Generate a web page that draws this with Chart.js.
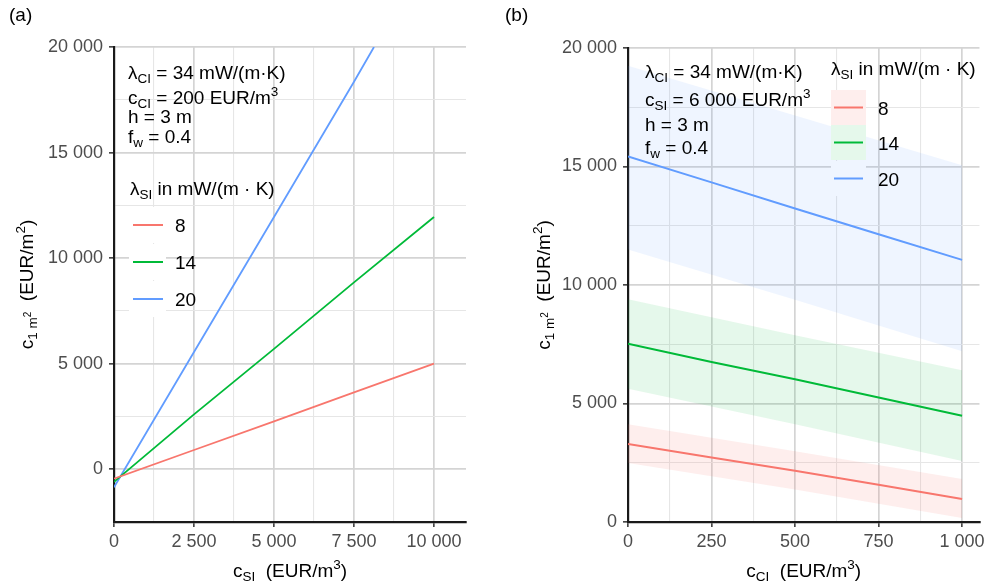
<!DOCTYPE html>
<html>
<head>
<meta charset="utf-8">
<script src="https://cdn.jsdelivr.net/npm/chart.js@4.4.1/dist/chart.umd.min.js"></script>
<style>
  body { margin: 0; background: #fff; }
  #wrap { position: relative; width: 989px; height: 585px; }
  #chart-a { position: absolute; left: 0; top: 0; }
  #chart-b { position: absolute; left: 494px; top: 0; }
</style>
</head>
<body>
<div id="wrap">
  <canvas id="chart-a" width="494" height="585"></canvas>
  <canvas id="chart-b" width="495" height="585"></canvas>
</div>
<script>
// panel (a): cost vs c_SI
const costSI = [0, 2500, 5000, 7500, 10000];
const costA8 = [-450, 910, 2270, 3640, 5000];
const costA14 = [-600, 2600, 5700, 8850, 11950];
const costSI20 = [0, 2500, 5000, 7500, 8125];
const costA20 = [-850, 5550, 11950, 18350, 20000];

// panel (b): cost vs c_CI, with bands
const costCI = [0, 250, 500, 750, 1000];
const costB8 = [3290, 2720, 2165, 1570, 970];
const costB14 = [7520, 6750, 6020, 5250, 4480];
const costB20 = [15420, 14330, 13230, 12140, 11060];
const bandCI = [0, 500, 1000];
const band8Hi = [4120, 2990, 1810];
const band8Lo = [2490, 1370, 170];
const band14Hi = [9400, 7880, 6400];
const band14Lo = [5620, 4120, 2570];
const band20Hi = [19250, 17150, 15050];
const band20Lo = [11500, 9380, 7200];

// ticks
const xMajorA = [0, 2500, 5000, 7500, 10000];
const xMinorA = [1250, 3750, 6250, 8750];
const yMajorA = [0, 5000, 10000, 15000, 20000];
const yMinorA = [-2500, 2500, 7500, 12500, 17500];
const xMajorB = [0, 250, 500, 750, 1000];
const xMinorB = [125, 375, 625, 875];
const yMajorB = [0, 5000, 10000, 15000, 20000];
const yMinorB = [2500, 7500, 12500, 17500];

const lambdaLabels = ['8', '14', '20'];
const colors = ['#F8766D', '#00BA38', '#619CFF'];
const bandColors = ['rgba(248,118,109,0.12)', 'rgba(0,186,56,0.1)', 'rgba(97,156,255,0.1)'];

const FONT = '"Liberation Sans", Arial, sans-serif';

function fmt(v) {
    return String(v).replace(/\B(?=(\d{3})+(?!\d))/g, ' ');
}

function pts(xs, ys) {
    return xs.map((x, i) => ({ x: x, y: ys[i] }));
}

// draw text with sub/superscripts
const roles = {
    n: { size: 19, dy: 0 },
    sub: { size: 13.5, dy: 4 },
    sup: { size: 13.5, dy: -8.5 },
    subsup: { size: 10, dy: -2 },
};
function drawRich(ctx, parts, x, y, align, color) {
    let total = 0;
    parts.forEach(p => {
        ctx.font = roles[p[1]].size + 'px ' + FONT;
        total += ctx.measureText(p[0]).width;
    });
    let cx = align === 'center' ? x - total / 2 : x;
    ctx.fillStyle = color || '#000';
    ctx.textAlign = 'left';
    ctx.textBaseline = 'alphabetic';
    parts.forEach(p => {
        const r = roles[p[1]];
        ctx.font = r.size + 'px ' + FONT;
        ctx.fillText(p[0], cx, y + r.dy);
        cx += ctx.measureText(p[0]).width;
    });
}

function scaleOpts(min, max, major, minor, isX, fixed) {
    const all = major.concat(minor).sort((a, b) => a - b);
    return {
        type: 'linear',
        min: min,
        max: max,
        afterBuildTicks: s => { s.ticks = all.map(v => ({ value: v })); },
        afterFit: s => { if (isX) s.height = fixed; else s.width = fixed; },
        grid: {
            color: c => (c.tick && major.includes(c.tick.value)) ? '#d4d4d4' : '#e6e6e6',
            lineWidth: c => (c.tick && major.includes(c.tick.value)) ? 1.7 : 1.1,
            tickLength: 5,
            tickWidth: 1.5,
            tickColor: c => (c.tick && major.includes(c.tick.value)) ? '#333' : 'rgba(0,0,0,0)',
        },
        border: { display: true, color: '#1a1a1a', width: 2.2 },
        ticks: {
            autoSkip: false,
            maxRotation: 0,
            padding: isX ? 4 : 6,
            color: '#4d4d4d',
            font: { size: 18, family: FONT },
            callback: v => major.includes(v) ? fmt(v) : '',
        },
    };
}

const yTitle = [['c', 'n'], ['1 m', 'sub'], ['2', 'subsup'], ['  (EUR/m', 'n'], ['2', 'sup'], [')', 'n']];

function drawYTitle(ctx, x, y) {
    ctx.save();
    ctx.translate(x, y);
    ctx.rotate(-Math.PI / 2);
    drawRich(ctx, yTitle, 0, 0, 'center');
    ctx.restore();
}

const decorA = {
    id: 'decorA',
    afterDraw(chart) {
        const ctx = chart.ctx;
        const area = chart.chartArea;
        drawRich(ctx, [['(a)', 'n']], 9, 21, 'left');
        drawYTitle(ctx, 33, (area.top + area.bottom) / 2);
        drawRich(ctx, [['c', 'n'], ['SI', 'sub'], ['  (EUR/m', 'n'], ['3', 'sup'], [')', 'n']],
            (area.left + area.right) / 2, 577, 'center');

        drawRich(ctx, [['λ', 'n'], ['CI', 'sub'], [' = 34 mW/(m·K)', 'n']], 128, 79);
        drawRich(ctx, [['c', 'n'], ['CI', 'sub'], [' = 200 EUR/m', 'n'], ['3', 'sup']], 128, 104);
        drawRich(ctx, [['h = 3 m', 'n']], 128, 123);
        drawRich(ctx, [['f', 'n'], ['w', 'sub'], [' = 0.4', 'n']], 128, 143);

        // legend
        drawRich(ctx, [['λ', 'n'], ['SI', 'sub'], [' in mW/(m · K)', 'n']], 130, 195);
        const keyY = [207, 244, 281];
        lambdaLabels.forEach((lab, i) => {
            ctx.fillStyle = '#fff';
            ctx.fillRect(129, keyY[i], 37, 36);
            ctx.strokeStyle = colors[i];
            ctx.lineWidth = 2;
            ctx.beginPath();
            ctx.moveTo(133, keyY[i] + 18);
            ctx.lineTo(163, keyY[i] + 18);
            ctx.stroke();
            drawRich(ctx, [[lab, 'n']], 175, keyY[i] + 25);
        });
    }
};

const decorB = {
    id: 'decorB',
    afterDraw(chart) {
        const ctx = chart.ctx;
        const area = chart.chartArea;
        const ox = 494;
        drawRich(ctx, [['(b)', 'n']], 505 - ox, 21, 'left');
        drawYTitle(ctx, 550 - ox, (area.top + area.bottom) / 2);
        drawRich(ctx, [['c', 'n'], ['CI', 'sub'], ['  (EUR/m', 'n'], ['3', 'sup'], [')', 'n']],
            (area.left + area.right) / 2, 577, 'center');

        const tx = 645 - ox;
        drawRich(ctx, [['λ', 'n'], ['CI', 'sub'], [' = 34 mW/(m·K)', 'n']], tx, 78);
        drawRich(ctx, [['c', 'n'], ['SI', 'sub'], [' = 6 000 EUR/m', 'n'], ['3', 'sup']], tx, 106);
        drawRich(ctx, [['h = 3 m', 'n']], tx, 131);
        drawRich(ctx, [['f', 'n'], ['w', 'sub'], [' = 0.4', 'n']], tx, 154);

        // legend with band keys
        drawRich(ctx, [['λ', 'n'], ['SI', 'sub'], [' in mW/(m · K)', 'n']], 831 - ox, 75);
        const keyY = [90, 125, 161];
        lambdaLabels.forEach((lab, i) => {
            const kx = 831 - ox;
            ctx.fillStyle = '#fff';
            ctx.fillRect(kx, keyY[i], 35, 35);
            ctx.fillStyle = bandColors[i];
            ctx.fillRect(kx, keyY[i], 35, 35);
            ctx.strokeStyle = colors[i];
            ctx.lineWidth = 2;
            ctx.beginPath();
            ctx.moveTo(kx + 3, keyY[i] + 17.5);
            ctx.lineTo(kx + 32, keyY[i] + 17.5);
            ctx.stroke();
            drawRich(ctx, [[lab, 'n']], 878 - ox, keyY[i] + 25);
        });
    }
};

function lineSet(data, color, width) {
    return {
        data: data,
        borderColor: color,
        borderWidth: width,
        pointRadius: 0,
        fill: false,
        tension: 0,
    };
}

function bandSet(data, fillColor, fillTarget) {
    return {
        data: data,
        borderWidth: 0,
        borderColor: 'rgba(0,0,0,0)',
        backgroundColor: fillColor,
        pointRadius: 0,
        fill: fillTarget,
        tension: 0,
    };
}

const baseOpts = {
    responsive: false,
    devicePixelRatio: 1,
    animation: false,
    events: [],
    plugins: { legend: { display: false }, tooltip: { enabled: false } },
};

function initCharts() {
    new Chart(document.getElementById('chart-a'), {
        type: 'line',
        data: {
            datasets: [
                lineSet(pts(costSI, costA8), colors[0], 1.8),
                lineSet(pts(costSI, costA14), colors[1], 1.8),
                lineSet(pts(costSI20, costA20), colors[2], 1.8),
            ]
        },
        options: Object.assign({}, baseOpts, {
            layout: { padding: { left: 44, right: 28, top: 47, bottom: 23 } },
            scales: {
                x: scaleOpts(0, 11000, xMajorA, xMinorA, true, 40),
                y: scaleOpts(-2500, 20000, yMajorA, yMinorA, false, 70),
            },
        }),
        plugins: [decorA],
    });

    new Chart(document.getElementById('chart-b'), {
        type: 'line',
        data: {
            datasets: [
                lineSet(pts(costCI, costB8), colors[0], 2),
                lineSet(pts(costCI, costB14), colors[1], 2),
                lineSet(pts(costCI, costB20), colors[2], 2),
                bandSet(pts(bandCI, band8Hi), bandColors[0], '+1'),
                bandSet(pts(bandCI, band8Lo), 'rgba(0,0,0,0)', false),
                bandSet(pts(bandCI, band14Hi), bandColors[1], '+1'),
                bandSet(pts(bandCI, band14Lo), 'rgba(0,0,0,0)', false),
                bandSet(pts(bandCI, band20Hi), bandColors[2], '+1'),
                bandSet(pts(bandCI, band20Lo), 'rgba(0,0,0,0)', false),
            ]
        },
        options: Object.assign({}, baseOpts, {
            layout: { padding: { left: 64, right: 8, top: 48, bottom: 23 } },
            scales: {
                x: scaleOpts(0, 1052, xMajorB, xMinorB, true, 40),
                y: scaleOpts(0, 20000, yMajorB, yMinorB, false, 70),
            },
        }),
        plugins: [decorB],
    });
}

initCharts();
</script>
</body>
</html>
